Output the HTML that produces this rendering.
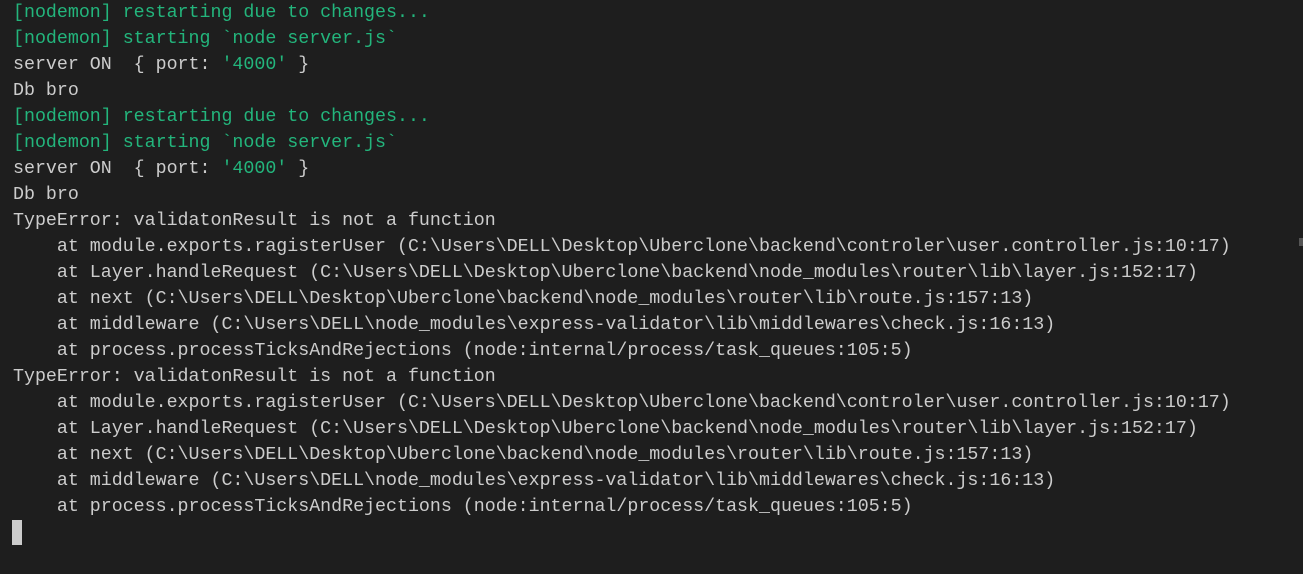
<!DOCTYPE html>
<html><head><meta charset="utf-8"><style>
html,body{margin:0;padding:0;width:1303px;height:574px;overflow:hidden;background:#1e1e1e;}
pre{margin:0;padding:0 0 0 13px;font-family:"Liberation Mono",monospace;font-size:18.3px;line-height:26px;color:#cccccc;white-space:pre;}
.g{color:#23b57c;}
.c{display:inline-block;width:10px;height:25px;background:#cccccc;vertical-align:top;margin-left:-1px;}
.sb{position:absolute;left:1299px;top:238px;width:4px;height:8px;background:#555;}
</style></head><body><pre><span class="g">[nodemon] restarting due to changes...</span>
<span class="g">[nodemon] starting `node server.js`</span>
server ON  { port: <span class="g">'4000'</span> }
Db bro
<span class="g">[nodemon] restarting due to changes...</span>
<span class="g">[nodemon] starting `node server.js`</span>
server ON  { port: <span class="g">'4000'</span> }
Db bro
TypeError: validatonResult is not a function
    at module.exports.ragisterUser (C:\Users\DELL\Desktop\Uberclone\backend\controler\user.controller.js:10:17)
    at Layer.handleRequest (C:\Users\DELL\Desktop\Uberclone\backend\node_modules\router\lib\layer.js:152:17)
    at next (C:\Users\DELL\Desktop\Uberclone\backend\node_modules\router\lib\route.js:157:13)
    at middleware (C:\Users\DELL\node_modules\express-validator\lib\middlewares\check.js:16:13)
    at process.processTicksAndRejections (node:internal/process/task_queues:105:5)
TypeError: validatonResult is not a function
    at module.exports.ragisterUser (C:\Users\DELL\Desktop\Uberclone\backend\controler\user.controller.js:10:17)
    at Layer.handleRequest (C:\Users\DELL\Desktop\Uberclone\backend\node_modules\router\lib\layer.js:152:17)
    at next (C:\Users\DELL\Desktop\Uberclone\backend\node_modules\router\lib\route.js:157:13)
    at middleware (C:\Users\DELL\node_modules\express-validator\lib\middlewares\check.js:16:13)
    at process.processTicksAndRejections (node:internal/process/task_queues:105:5)
<span class="c"></span></pre><div class="sb"></div></body></html>
